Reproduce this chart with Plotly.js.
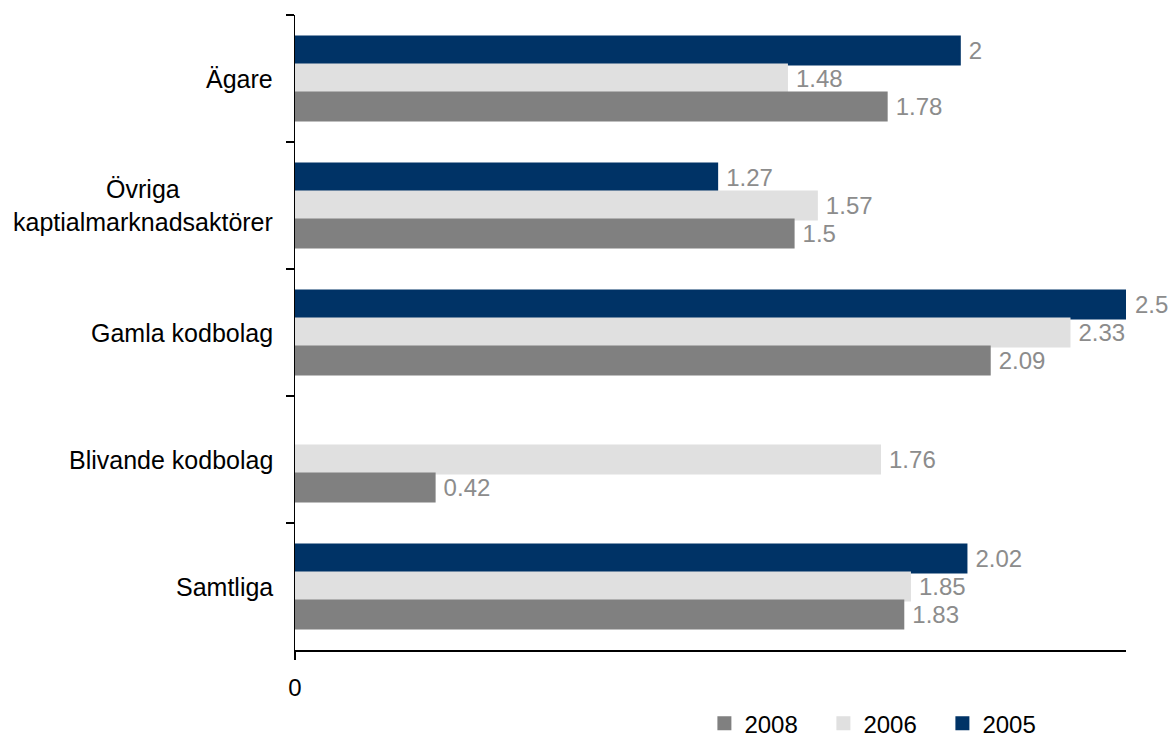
<!DOCTYPE html>
<html>
<head>
<meta charset="utf-8">
<script src="https://cdn.plot.ly/plotly-3.0.1.min.js"></script>
<style>html,body{margin:0;padding:0;background:#fff;}#chart{width:1174px;height:737px;}</style>
</head>
<body>
<div id="chart"></div>
<script>
var categories = ["Ägare", "Övriga<br>kaptialmarknadsaktörer", "Gamla kodbolag", "Blivande kodbolag", "Samtliga"];
var seriesNames = ["2005", "2006", "2008"];
var values2005 = [2, 1.27, 2.5, null, 2.02];
var values2006 = [1.48, 1.57, 2.33, 1.76, 1.85];
var values2008 = [1.78, 1.5, 2.09, 0.42, 1.83];
var xTickVals = [0];
var xTickText = ["0"];

var colors = {"2005": "#003366", "2006": "#E0E0E0", "2008": "#808080"};
var seriesValues = {"2005": values2005, "2006": values2006, "2008": values2008};

var font = "Liberation Sans, Arial, sans-serif";

var traces = seriesNames.map(function (name) {
  var vals = seriesValues[name];
  return {
    type: "bar",
    orientation: "h",
    name: name,
    y: categories,
    x: vals,
    marker: {color: colors[name], line: {color: colors[name], width: 2}},
    text: vals.map(function (v) { return v === null ? "" : "\u2005" + String(v); }),
    textposition: "outside",
    textfont: {family: font, size: 24, color: "#8c8c8c"},
    constraintext: "none",
    cliponaxis: false,
    hoverinfo: "x+name"
  };
});

var annotations = categories.map(function (c) {
  return {
    xref: "paper", yref: "y", x: 0, y: c,
    text: c, showarrow: false,
    xanchor: "right", yanchor: "middle", align: "center",
    xshift: -20,
    font: {family: font, size: 25, color: "#000"}
  };
});

var layout = {
  width: 1174, height: 737,
  margin: {l: 295, r: 48, t: 15, b: 87},
  paper_bgcolor: "#fff", plot_bgcolor: "#fff",
  barmode: "group",
  bargap: 0.34, bargroupgap: 0,
  font: {family: font, size: 24, color: "#000"},
  xaxis: {
    range: [0, 2.5],
    showgrid: false, zeroline: false,
    showline: true, linecolor: "#000", linewidth: 1.5,
    ticks: "outside", ticklen: 8, tickwidth: 1.5, tickcolor: "#000",
    tickvals: xTickVals, ticktext: xTickText,
    ticklabelstandoff: 8,
    tickfont: {family: font, size: 24, color: "#000"}
  },
  yaxis: {
    type: "category",
    categoryorder: "array", categoryarray: categories,
    autorange: "reversed",
    showgrid: false, zeroline: false,
    showline: true, linecolor: "#000", linewidth: 1.5,
    ticks: "outside", tickson: "boundaries", ticklen: 8, tickwidth: 1.5, tickcolor: "#000",
    showticklabels: false
  },
  showlegend: true,
  legend: {
    orientation: "h",
    traceorder: "reversed",
    xref: "container", yref: "container",
    x: 0.6, xanchor: "left",
    y: 0.018, yanchor: "middle",
    entrywidth: 74, entrywidthmode: "pixels",
    itemwidth: 30,
    font: {family: font, size: 24, color: "#000"}
  },
  annotations: annotations
};

Plotly.newPlot("chart", traces, layout, {displayModeBar: false, staticPlot: true});
</script>
</body>
</html>
